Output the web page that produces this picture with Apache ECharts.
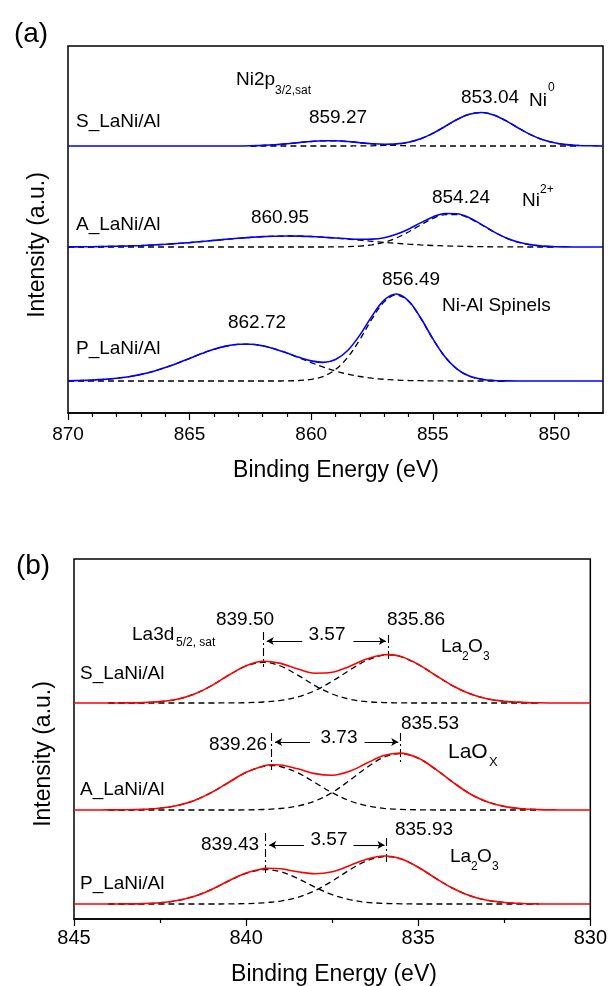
<!DOCTYPE html>
<html><head><meta charset="utf-8">
<script src="https://cdn.jsdelivr.net/npm/echarts@6/dist/echarts.min.js"></script>
<style>html,body{margin:0;padding:0;background:#fff}#c{width:610px;height:986px}</style>
</head><body><div id="c"></div>
<script>
// ===== Panel (a): Ni 2p3/2 region =====
const xA = [870,869.5,869,868.5,868,867.5,867,866.5,866,865.5,865,864.5,864,863.5,863,862.5,862,861.5,861,860.5,860,859.5,859,858.5,858,857.5,857,856.5,856,855.5,855,854.5,854,853.5,853,852.5,852,851.5,851,850.5,850,849.5,849,848.5,848];
// S_LaNi/Al
const aS_env  = [0,0,0,0,0,0,0,0,0,0,0,0,0,0,0,0.2,0.6,1.2,2.2,3.4,4.5,5.2,5.2,4.5,3.3,2.3,1.8,2.1,3.8,7.2,12.6,19.5,26.5,31.7,33.5,31.1,25.4,18.3,11.6,6.5,3.2,1.4,0.5,0.2,0];
const aS_sat  = [null,null,null,null,null,null,null,null,null,null,null,null,null,null,null,0.2,0.6,1.2,2.2,3.4,4.5,5.2,5.2,4.5,3.3,2.1,1.2,0.6,0.2,0.1,0,0,0,0,0,0,0,0,0,0,0,0,0,null,null];
const aS_main = [null,null,null,null,null,null,null,null,null,null,null,null,null,null,null,0,0,0,0,0,0,0,0,0,0.1,0.2,0.6,1.6,3.6,7.2,12.6,19.5,26.5,31.7,33.5,31.1,25.4,18.3,11.6,6.5,3.2,1.4,0.5,null,null];
// A_LaNi/Al
const aA_env  = [0.1,0.2,0.3,0.5,0.7,1.0,1.4,2.0,2.7,3.5,4.4,5.5,6.6,7.7,8.7,9.6,10.4,10.8,11.0,10.9,10.5,9.8,9.0,8.2,7.7,7.9,9.3,12.7,17.8,24.1,30.0,33.5,33.3,29.2,22.6,15.4,9.3,5.0,2.4,0.9,0.3,0.1,0,0,0];
const aA_sat  = [0.1,0.2,0.3,0.5,0.7,1.0,1.4,2.0,2.7,3.5,4.4,5.5,6.6,7.7,8.7,9.6,10.4,10.8,11.0,10.9,10.5,9.8,8.9,7.9,6.8,5.7,4.6,3.7,2.8,2.1,1.5,1.1,0.8,0.5,0.3,0.2,0.1,0.1,0,0,0,null,null,null,null];
const aA_main = [0,0,0,0,0,0,0,0,0,0,0,0,0,0,0,0,0,0,0,0,0,0,0.1,0.3,0.9,2.2,4.7,9.0,15.0,22.0,28.5,32.4,32.5,28.7,22.3,15.2,9.2,4.9,2.3,0.9,0.3,null,null,null,null];
// P_LaNi/Al
const aP_env  = [0.3,0.5,0.9,1.6,2.7,4.3,6.6,9.6,13.4,17.8,22.6,27.4,31.7,34.9,36.7,36.8,35.2,32.1,28.1,23.7,20.1,18.6,21.5,30.5,45.9,64.9,80.8,87.0,80.2,63.2,42.3,24.3,11.9,4.9,1.8,0.5,0.1,0,0,0,0,0,0,0,0];
const aP_sat  = [0.3,0.5,0.9,1.6,2.7,4.3,6.6,9.6,13.4,17.8,22.6,27.4,31.7,34.9,36.7,36.8,35.2,32.1,28.0,23.2,18.4,13.9,10.0,6.9,4.5,2.8,1.7,1.0,0.5,0.3,0.1,0.1,0,0,0,0,0,null,null,null,null,null,null,null,null];
const aP_main = [0,0,0,0,0,0,0,0,0,0,0,0,0,0,0,0,0,0,0.1,0.5,1.7,4.7,11.5,23.6,41.4,62.1,79.1,86.0,79.7,62.9,42.2,24.2,11.9,4.9,1.8,0.5,0.1,null,null,null,null,null,null,null,null];
const offsetsA = [267, 166, 32];          // S, A, P vertical offsets (a.u.)
const majorTicksA = [850, 855, 860, 865, 870];
const minorTicksA = [849,851,852,853,854,856,857,858,859,861,862,863,864,866,867,868,869];

// ===== Panel (b): La 3d5/2 region =====
const xBS = [845,844.5,844,843.5,843,842.5,842,841.5,841,840.5,840,839.5,839,838.5,838,837.5,837,836.5,836,835.86,835.5,835,834.5,834,833.5,833,832.5,832,831.5,831,830.5,830];
const bS_env  = [0,0,0,0.1,0.4,1.4,3.8,9.0,17.4,28.0,37.3,41.7,39.6,34.0,29.8,30.7,36.5,44.0,48.2,48.4,46.4,38.6,27.8,17.3,9.3,4.3,1.7,0.6,0.2,0,0,0];
const bS_sat  = [null,null,0,0.1,0.4,1.4,3.8,9.0,17.4,27.9,37.0,40.7,37.0,27.9,17.4,9.0,3.8,1.4,0.4,0.3,0.1,0,0,0,0,0,0,0,0,null,null,null];
const bS_main = [null,null,0,0,0,0,0,0,0,0.1,0.3,1.0,2.6,6.1,12.4,21.7,32.7,42.6,47.8,48.1,46.3,38.6,27.8,17.3,9.3,4.3,1.7,0.6,0.2,null,null,null];
const xBA = [845,844.5,844,843.5,843,842.5,842,841.5,841,840.5,840,839.5,839.26,839,838.5,838,837.5,837,836.5,836,835.53,835,834.5,834,833.5,833,832.5,832,831.5,831,830.5,830];
const bA_env  = [0,0,0.1,0.2,0.6,1.8,4.5,9.6,17.6,27.8,37.7,44.1,45.3,45.0,41.2,36.4,34.8,38.7,46.7,54.4,56.9,51.9,40.9,27.9,16.3,8.2,3.6,1.3,0.4,0.1,0,0];
const bA_sat  = [null,null,0.1,0.2,0.6,1.8,4.5,9.6,17.6,27.8,37.6,43.6,44.4,43.5,37.2,27.4,17.3,9.3,4.3,1.7,0.6,0.2,0,0,0,0,0,0,0,null,null,null];
const bA_main = [null,null,0,0,0,0,0,0,0,0,0.1,0.5,0.9,1.5,4.0,9.0,17.5,29.4,42.4,52.7,56.3,51.7,40.9,27.9,16.3,8.2,3.6,1.3,0.4,null,null,null];
const xBP = [845,844.5,844,843.5,843,842.5,842,841.5,841,840.5,840,839.5,839.43,839,838.5,838,837.5,837,836.5,836,835.93,835.5,835,834.5,834,833.5,833,832.5,832,831.5,831,830.5,830];
const bP_env  = [0,0,0,0.1,0.4,1.3,3.5,7.8,14.6,23.2,31.1,35.4,35.7,35.2,32.2,30.3,32.3,38.3,44.8,48.0,48.0,45.2,36.8,25.9,15.8,8.3,3.7,1.5,0.5,0.1,0,0,0];
const bP_sat  = [null,null,0,0.1,0.4,1.3,3.5,7.8,14.6,23.1,30.7,34.3,34.4,32.3,25.5,16.9,9.4,4.4,1.7,0.6,0.5,0.2,0,0,0,0,0,0,0,0,null,null,null];
const bP_main = [null,null,0,0,0,0,0,0,0,0.1,0.4,1.1,1.3,2.9,6.7,13.4,22.9,33.9,43.1,47.4,47.5,45.0,36.8,25.9,15.8,8.3,3.7,1.5,0.5,0.1,null,null,null];
const offsetsB = [216, 109, 15];
// peak-position guide lines: [x, yTop, yBottom] and arrows: [xFrom, xTo, y]
const guideLinesB = [[839.50,287,252],[835.86,284,257],[839.26,186,149],[835.53,186,156],[839.43,86,44],[835.93,81,54]];
const arrowsB = [[838.37,839.40,278],[836.88,835.94,278],[838.14,839.16,177],[836.56,835.58,177],[838.32,839.33,74],[836.88,835.98,74]];

const FF = '"Liberation Sans", Arial, sans-serif';
function pts(xs, ys, off) {
  const out = [];
  xs.forEach((x, i) => { if (ys[i] !== null) out.push([x, off + ys[i]]); });
  return out;
}
function comp(xs, ys, off, xi, yi) {
  return {type:'line', xAxisIndex:xi, yAxisIndex:yi, data:pts(xs, ys, off), smooth:0.35, symbol:'none',
    lineStyle:{color:'#000', width:1.3, type:[6,4]}, z:3, silent:true};
}
function env(xs, ys, off, xi, yi, color) {
  return {type:'line', xAxisIndex:xi, yAxisIndex:yi, data:pts(xs, ys, off), smooth:0.35, symbol:'none',
    lineStyle:{color:color, width:1.6}, z:5, silent:true};
}
const BLUE = '#0000ff', RED = '#ff0000';
const series = [
  comp(xA, aS_sat, offsetsA[0], 0, 0), comp(xA, aS_main, offsetsA[0], 0, 0), env(xA, aS_env, offsetsA[0], 0, 0, BLUE),
  comp(xA, aA_sat, offsetsA[1], 0, 0), comp(xA, aA_main, offsetsA[1], 0, 0), env(xA, aA_env, offsetsA[1], 0, 0, BLUE),
  comp(xA, aP_sat, offsetsA[2], 0, 0), comp(xA, aP_main, offsetsA[2], 0, 0), env(xA, aP_env, offsetsA[2], 0, 0, BLUE),
  comp(xBS, bS_sat, offsetsB[0], 2, 1), comp(xBS, bS_main, offsetsB[0], 2, 1), env(xBS, bS_env, offsetsB[0], 2, 1, RED),
  comp(xBA, bA_sat, offsetsB[1], 2, 1), comp(xBA, bA_main, offsetsB[1], 2, 1), env(xBA, bA_env, offsetsB[1], 2, 1, RED),
  comp(xBP, bP_sat, offsetsB[2], 2, 1), comp(xBP, bP_main, offsetsB[2], 2, 1), env(xBP, bP_env, offsetsB[2], 2, 1, RED)
];
// annotation lines for panel (b)
const mlData = [];
guideLinesB.forEach(g => mlData.push([
  {coord:[g[0], g[1]], symbol:'none', lineStyle:{color:'#000', width:1.1, type:[8,3,2,3]}},
  {coord:[g[0], g[2]], symbol:'none'}]));
arrowsB.forEach(a => mlData.push([
  {coord:[a[0], a[2]], symbol:'none', lineStyle:{color:'#000', width:1.1, type:'solid'}},
  {coord:[a[1], a[2]], symbol:'arrow', symbolSize:[6,7]}]));
series.push({type:'line', xAxisIndex:2, yAxisIndex:1, data:[[845,-10]], symbol:'none', lineStyle:{width:0}, silent:true,
  markLine:{silent:true, animation:false, symbol:['none','none'], label:{show:false}, emphasis:{disabled:true}, data:mlData}});

const axisLineStyle = {color:'#000', width:1.5};
function T(x, y, text, size, align) {
  return {type:'text', x:x, y:y, z:100, silent:true,
    style:{text:text, fontSize:size || 19, fontFamily:FF, fill:'#000', align:align || 'left', verticalAlign:'middle'}};
}
function R(x, y, text, size) {
  return {type:'text', x:x, y:y, rotation:Math.PI/2, z:100, silent:true,
    style:{text:text, fontSize:size, fontFamily:FF, fill:'#000', align:'center', verticalAlign:'middle'}};
}
const graphics = [
  T(31,34,'(a)',28,'center'), T(33,566,'(b)',28,'center'),
  R(38,245,'Intensity (a.u.)',23), R(44,754,'Intensity (a.u.)',23),
  T(336,471,'Binding Energy (eV)',23,'center'), T(334,975,'Binding Energy (eV)',23,'center'),
  // panel (a)
  T(76,122,'S_LaNi/Al'), T(76,225,'A_LaNi/Al'), T(76,349,'P_LaNi/Al'),
  T(236,80,'Ni2p'), T(275,91,'3/2,sat',12),
  T(338,118,'859.27',19,'center'), T(490,98,'853.04',19,'center'),
  T(529,101,'Ni'), T(548,88,'0',12),
  T(461,198,'854.24',19,'center'), T(522,201,'Ni'), T(540,190,'2+',12),
  T(280,218,'860.95',19,'center'), T(411,280,'856.49',19,'center'),
  T(442,306,'Ni-Al Spinels'), T(257,323,'862.72',19,'center'),
  // panel (b)
  T(245,620,'839.50',19,'center'), T(416,620,'835.86',19,'center'),
  T(132,635,'La3d'), T(176,643,'5/2, sat',12), T(327,635,'3.57',19,'center'),
  T(441,647,'La'), T(462,657,'2',12), T(468,647,'O'), T(483,657,'3',12),
  T(80,674,'S_LaNi/Al'),
  T(430,724,'835.53',19,'center'), T(238,745,'839.26',19,'center'), T(339,738,'3.73',19,'center'),
  T(448,752,'LaO',21), T(489,762,'X',13),
  T(80,790,'A_LaNi/Al'),
  T(424,830,'835.93',19,'center'), T(230,845,'839.43',19,'center'), T(329,840,'3.57',19,'center'),
  T(450,857,'La'), T(471,867,'2',12), T(477,857,'O'), T(492,867,'3',12),
  T(80,884,'P_LaNi/Al')
];

const chart = echarts.init(document.getElementById('c'), null, {renderer:'canvas'});
chart.setOption({
  animation:false,
  backgroundColor:'#fff',
  grid:[
    {left:68, top:46, width:535, height:367, show:true, borderColor:'#000', borderWidth:1.5, backgroundColor:'transparent'},
    {left:74, top:559, width:518, height:360, show:true, borderColor:'#000', borderWidth:1.5, backgroundColor:'transparent'}
  ],
  xAxis:[
    {gridIndex:0, type:'value', min:848, max:870, inverse:true, position:'bottom',
      axisLine:{show:true, onZero:false, lineStyle:axisLineStyle},
      axisTick:{show:true, length:7, customValues:majorTicksA, lineStyle:{color:'#000', width:1.2}},
      axisLabel:{customValues:majorTicksA, color:'#000', fontSize:19, fontFamily:FF, margin:12},
      splitLine:{show:false}},
    {gridIndex:0, type:'value', min:848, max:870, inverse:true, position:'bottom', offset:0,
      axisLine:{show:false, onZero:false},
      axisTick:{show:true, length:4, customValues:minorTicksA, lineStyle:{color:'#000', width:1.2}},
      axisLabel:{show:false}, splitLine:{show:false}},
    {gridIndex:1, type:'value', min:830, max:845, interval:5, inverse:true, position:'bottom',
      axisLine:{show:true, onZero:false, lineStyle:axisLineStyle},
      axisTick:{show:true, length:7, lineStyle:{color:'#000', width:1.2}},
      minorTick:{show:true, splitNumber:2, length:4, lineStyle:{color:'#000', width:1.2}},
      axisLabel:{color:'#000', fontSize:20, fontFamily:FF, margin:9},
      splitLine:{show:false}, minorSplitLine:{show:false}}
  ],
  yAxis:[
    {gridIndex:0, type:'value', min:0, max:367, show:false, splitLine:{show:false}},
    {gridIndex:1, type:'value', min:0, max:360, show:false, splitLine:{show:false}}
  ],
  series:series,
  graphic:graphics
});
</script></body></html>
